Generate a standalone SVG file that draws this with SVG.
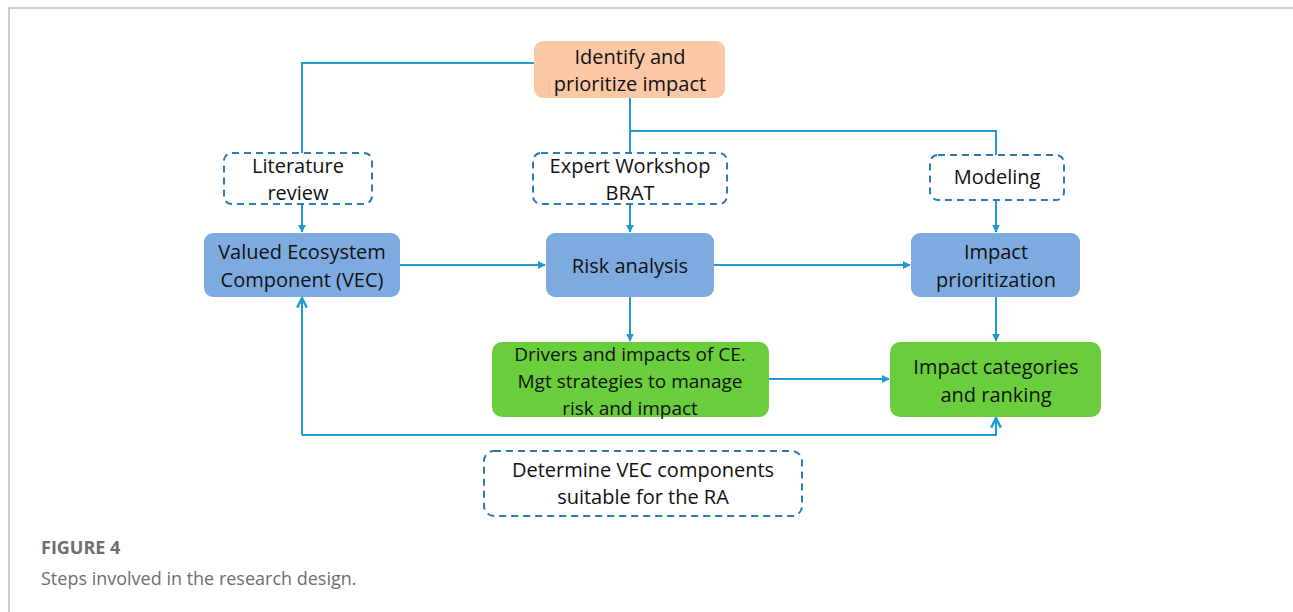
<svg xmlns="http://www.w3.org/2000/svg" width="1293" height="612" viewBox="0 0 1293 612">
<style>
.t{font-family:"Open Sans","Liberation Sans",sans-serif;font-size:20px;fill:#111;text-anchor:middle}
.s{font-size:19px}
.c{fill:none;stroke:#1f9ad6;stroke-width:2}
.d{fill:#fff;stroke:#2e7ab8;stroke-width:2;stroke-dasharray:7,5}
.blue{fill:#7eabdf}
.green{fill:#6acd3b}
.cap{font-family:"Open Sans","Liberation Sans",sans-serif;fill:#6e6e6e;font-size:18px}
</style>
<defs>
<marker id="a" viewBox="0 0 10 10" refX="9" refY="5" markerWidth="4" markerHeight="4" orient="auto"><path d="M0,0 L10,5 L0,10 z" fill="#1f9ad6"/></marker>
<marker id="o" viewBox="0 0 10 10" refX="9" refY="5" markerWidth="6" markerHeight="6" orient="auto"><path d="M1,1 L9,5 L1,9" fill="none" stroke="#1f9ad6" stroke-width="2"/></marker>
</defs>
<rect x="0" y="0" width="1293" height="612" fill="#fff"/>
<path d="M9,612 V8 H1293" fill="none" stroke="#bdbdbd" stroke-width="1.5"/>
<g id="connectors">
<path class="c" d="M534,63 H302 V153"/>
<path class="c" d="M630,98 V153"/>
<path class="c" d="M630,131 H996 V155"/>
<path class="c" d="M302,204 V232" marker-end="url(#a)"/>
<path class="c" d="M630,204 V232" marker-end="url(#a)"/>
<path class="c" d="M996,200 V232" marker-end="url(#a)"/>
<path class="c" d="M400,265 H545" marker-end="url(#a)"/>
<path class="c" d="M714,265 H910" marker-end="url(#a)"/>
<path class="c" d="M630,297 V341" marker-end="url(#a)"/>
<path class="c" d="M996,297 V341" marker-end="url(#a)"/>
<path class="c" d="M769,379 H889" marker-end="url(#a)"/>
<path class="c" d="M302,435 H996 V418" marker-end="url(#o)"/>
<path class="c" d="M302,435 V298" marker-end="url(#o)"/>
</g>
<g id="identify">
<rect x="534" y="41" width="191" height="57" rx="9" fill="#fbc8a5"/>
<text class="t" x="630" y="64">Identify and</text>
<text class="t" x="630" y="91">prioritize impact</text>
</g>
<g id="literature">
<rect class="d" x="224" y="153" width="148" height="51" rx="8"/>
<text class="t" x="298" y="173">Literature</text>
<text class="t" x="298" y="200">review</text>
</g>
<g id="expert">
<rect class="d" x="533" y="153" width="194" height="51" rx="8"/>
<text class="t" x="630" y="173">Expert Workshop</text>
<text class="t" x="630" y="200">BRAT</text>
</g>
<g id="modeling">
<rect class="d" x="930" y="155" width="134" height="45" rx="8"/>
<text class="t" x="997" y="184">Modeling</text>
</g>
<g id="vec">
<rect class="blue" x="204" y="233" width="196" height="64" rx="9"/>
<text class="t" x="302" y="259">Valued Ecosystem</text>
<text class="t" x="302" y="287">Component (VEC)</text>
</g>
<g id="risk">
<rect class="blue" x="546" y="233" width="168" height="64" rx="9"/>
<text class="t" x="630" y="273">Risk analysis</text>
</g>
<g id="impactprio">
<rect class="blue" x="911" y="233" width="169" height="64" rx="9"/>
<text class="t" x="996" y="259">Impact</text>
<text class="t" x="996" y="287">prioritization</text>
</g>
<g id="drivers">
<rect class="green" x="492" y="342" width="277" height="75" rx="10"/>
<text class="t s" x="630" y="361">Drivers and impacts of CE.</text>
<text class="t s" x="630" y="388">Mgt strategies to manage</text>
<text class="t s" x="630" y="415">risk and impact</text>
</g>
<g id="impactcat">
<rect class="green" x="890" y="342" width="211" height="75" rx="10"/>
<text class="t" x="996" y="374">Impact categories</text>
<text class="t" x="996" y="402">and ranking</text>
</g>
<g id="determine">
<rect class="d" x="484" y="451" width="318" height="65" rx="10"/>
<text class="t" x="643" y="477">Determine VEC components</text>
<text class="t" x="643" y="504">suitable for the RA</text>
</g>
<text class="cap" x="41" y="554" font-weight="bold">FIGURE 4</text>
<text class="cap" x="41" y="585">Steps involved in the research design.</text>
</svg>
